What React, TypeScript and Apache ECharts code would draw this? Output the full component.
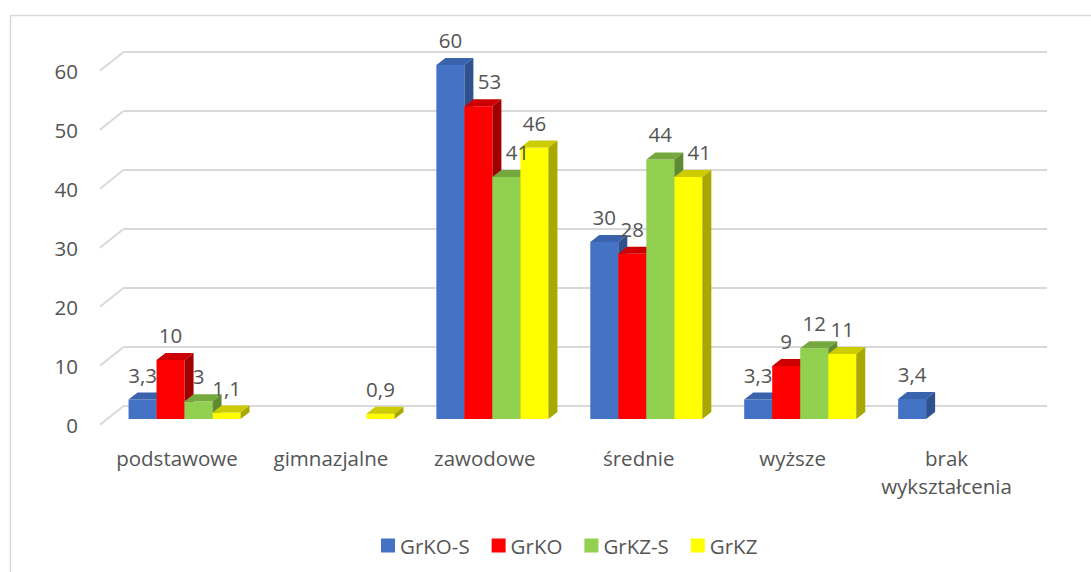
import React, { useEffect, useRef } from "react";
import * as echarts from "echarts";

const categories = ["podstawowe", "gimnazjalne", "zawodowe", "średnie", "wyższe", "brak\nwykształcenia"];
const seriesNames = ["GrKO-S", "GrKO", "GrKZ-S", "GrKZ"];
const grKOS = [3.3, null, 60, 30, 3.3, 3.4];
const grKO = [10, null, 53, 28, 9, null];
const grKZS = [3, null, 41, 44, 12, null];
const grKZ = [1.1, 0.9, 46, 41, 11, null];
const yTicks = [0, 10, 20, 30, 40, 50, 60];

const allSeries = [grKOS, grKO, grKZS, grKZ];
const frontColors = ["#4472C4", "#FF0000", "#92D050", "#FFFF00"];
const topColors = ["#3A63AE", "#CC0000", "#76A840", "#CCCC00"];
const sideColors = ["#2F528F", "#A00000", "#5F8A32", "#A8A800"];

const FONT = "'Open Sans', 'Noto Sans', sans-serif";
const FS = 20.5;
const TXT = "#555555";
const GRID_C = "#D9D9D9";
// depth offsets
const BDX = 9, BDY = 7; // bar depth
const FDX = 23.5, FDY = 18.7; // floor depth

function fmt(v: number) {
  return String(v).replace(".", ",");
}

export default function App() {
  const ref = useRef<HTMLDivElement>(null);
  useEffect(() => {
    if (!ref.current) return;
    const chart = echarts.init(ref.current, null, { renderer: "svg" });
    const yAxisBase = { type: "value", min: 0, max: 60, interval: 10 };

    const barSeries = allSeries.map((arr, k) => ({
      type: "custom",
      name: seriesNames[k],
      xAxisIndex: 2,
      yAxisIndex: 2,
      itemStyle: { color: frontColors[k] },
      data: arr.map((v, i) => (v == null ? null : [i, v])).filter((d) => d != null),
      renderItem: (params: any, api: any) => {
        const cat = api.value(0);
        const v = api.value(1);
        const base = api.coord([cat, 0]);
        const top = api.coord([cat, v]);
        const band = api.size([1, 0])[0];
        const bw = band * 0.182;
        const x0 = base[0] + (k - 2) * bw;
        const x1 = x0 + bw;
        const prev = k > 0 ? allSeries[k - 1][cat] : null;
        const shift = prev != null && prev - v >= 3 && v >= 10 ? 11 : 0;
        return {
          type: "group",
          children: [
            {
              type: "rect",
              shape: { x: x0, y: top[1], width: bw, height: base[1] - top[1] },
              style: { fill: frontColors[k] },
            },
            {
              type: "polygon",
              shape: {
                points: [
                  [x0, top[1]],
                  [x1, top[1]],
                  [x1 + BDX, top[1] - BDY],
                  [x0 + BDX, top[1] - BDY],
                ],
              },
              style: { fill: topColors[k] },
            },
            {
              type: "polygon",
              shape: {
                points: [
                  [x1, top[1]],
                  [x1 + BDX, top[1] - BDY],
                  [x1 + BDX, base[1] - BDY],
                  [x1, base[1]],
                ],
              },
              style: { fill: sideColors[k] },
            },
            {
              type: "text",
              z2: 100,
              x: x0 + bw / 2 + shift,
              y: top[1] - 25,
              style: {
                text: fmt(v),
                fill: TXT,
                font: `${FS}px ${FONT}`,
                align: "center",
                verticalAlign: "middle",
              },
            },
          ],
        };
      },
    }));

    const option: any = {
      animation: false,
      backgroundColor: "#fff",
      textStyle: { fontFamily: FONT },
      graphic: [
        {
          type: "rect",
          shape: { x: 10.5, y: 15.5, width: 1200, height: 700 },
          style: { fill: "none", stroke: GRID_C, lineWidth: 1.5 },
          silent: true,
          z: -10,
        },
      ],
      grid: [
        { left: 100, right: 67.5, top: 70.7, bottom: 147.3 },
        { left: 123.5, right: 44, top: 52, bottom: 166 },
        { left: 107.6, right: 59.9, top: 65, bottom: 153 },
      ],
      xAxis: [
        {
          type: "category",
          gridIndex: 0,
          data: categories,
          axisLine: { show: false },
          axisTick: { show: false },
          axisLabel: {
            color: TXT,
            fontSize: FS,
            fontFamily: FONT,
            margin: 19,
            lineHeight: 28,
            interval: 0,
          },
        },
        { type: "category", gridIndex: 1, data: categories, show: false },
        { type: "category", gridIndex: 2, data: categories, show: false },
      ],
      yAxis: [
        {
          ...yAxisBase,
          gridIndex: 0,
          axisLine: { show: false },
          axisTick: { show: false },
          splitLine: { show: false },
          axisLabel: { color: TXT, fontSize: FS, fontFamily: FONT, margin: 22 },
        },
        {
          ...yAxisBase,
          gridIndex: 1,
          axisLine: { show: false },
          axisTick: { show: false },
          axisLabel: { show: false },
          splitLine: { show: true, lineStyle: { color: GRID_C, width: 2 } },
        },
        { ...yAxisBase, gridIndex: 2, show: false, splitLine: { show: false } },
      ],
      legend: {
        data: seriesNames,
        left: 376,
        top: 530,
        icon: "rect",
        itemWidth: 14,
        itemHeight: 14,
        itemGap: 22,
        textStyle: { color: TXT, fontSize: FS, fontFamily: FONT },
      },
      series: [
        {
          type: "custom",
          name: "floor",
          xAxisIndex: 1,
          yAxisIndex: 1,
          silent: true,
          z: 1,
          data: yTicks.map((t) => [0, t]),
          renderItem: (params: any, api: any) => {
            const p = api.coord([0, api.value(1)]);
            const band = api.size([1, 0])[0];
            const x = p[0] - band / 2;
            return {
              type: "line",
              shape: { x1: x, y1: p[1], x2: x - FDX, y2: p[1] + FDY },
              style: { stroke: GRID_C, lineWidth: 2 },
            };
          },
        },
        ...barSeries,
      ],
    };
    chart.setOption(option);
    return () => chart.dispose();
  }, []);
  return (
    <div
      ref={ref}
      style={{ position: "fixed", left: 0, top: 0, width: 1091, height: 572 }}
    />
  );
}
